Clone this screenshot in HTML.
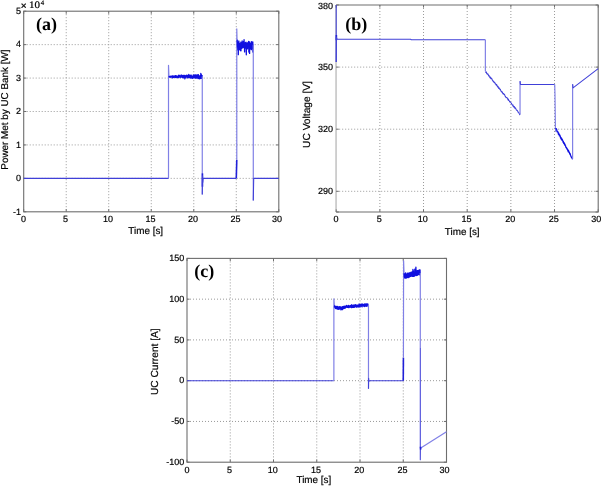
<!DOCTYPE html>
<html><head><meta charset="utf-8"><style>
html,body{margin:0;padding:0;background:#fff;width:602px;height:486px;overflow:hidden}
svg{display:block;filter:blur(0.45px)}
text{text-rendering:geometricPrecision}
</style></head><body>
<svg width="602" height="486" viewBox="0 0 602 486">
<rect width="602" height="486" fill="#fff"/>
<g stroke="#9a9a9a" stroke-width="1" stroke-dasharray="1 2"><line x1="66.22" y1="11.2" x2="66.22" y2="211.8"/><line x1="108.73" y1="11.2" x2="108.73" y2="211.8"/><line x1="151.25" y1="11.2" x2="151.25" y2="211.8"/><line x1="193.77" y1="11.2" x2="193.77" y2="211.8"/><line x1="236.28" y1="11.2" x2="236.28" y2="211.8"/><line x1="23.7" y1="178.37" x2="278.8" y2="178.37"/><line x1="23.7" y1="144.93" x2="278.8" y2="144.93"/><line x1="23.7" y1="111.5" x2="278.8" y2="111.5"/><line x1="23.7" y1="78.07" x2="278.8" y2="78.07"/><line x1="23.7" y1="44.63" x2="278.8" y2="44.63"/></g>
<rect x="23.7" y="11.2" width="255.1" height="200.6" fill="none" stroke="#6e6e6e" stroke-width="1.1"/>
<path d="M23.7 211.8v-2.6M23.7 11.2v2.6M66.22 211.8v-2.6M66.22 11.2v2.6M108.73 211.8v-2.6M108.73 11.2v2.6M151.25 211.8v-2.6M151.25 11.2v2.6M193.77 211.8v-2.6M193.77 11.2v2.6M236.28 211.8v-2.6M236.28 11.2v2.6M278.8 211.8v-2.6M278.8 11.2v2.6M23.7 211.8h2.6M278.8 211.8h-2.6M23.7 178.37h2.6M278.8 178.37h-2.6M23.7 144.93h2.6M278.8 144.93h-2.6M23.7 111.5h2.6M278.8 111.5h-2.6M23.7 78.07h2.6M278.8 78.07h-2.6M23.7 44.63h2.6M278.8 44.63h-2.6M23.7 11.2h2.6M278.8 11.2h-2.6" stroke="#6e6e6e" stroke-width="1" fill="none"/>
<g font-family='"Liberation Sans", sans-serif' font-size="9.0" fill="#000" stroke="#000" stroke-width="0.18"><text x="23.6" y="221.7" text-anchor="middle">0</text><text x="65.52" y="221.7" text-anchor="middle">5</text><text x="108.03" y="221.7" text-anchor="middle">10</text><text x="150.55" y="221.7" text-anchor="middle">15</text><text x="193.07" y="221.7" text-anchor="middle">20</text><text x="235.58" y="221.7" text-anchor="middle">25</text><text x="276.9" y="221.7" text-anchor="middle">30</text><text x="21" y="214.6" text-anchor="end">-1</text><text x="21" y="181.17" text-anchor="end">0</text><text x="21" y="147.73" text-anchor="end">1</text><text x="21" y="114.3" text-anchor="end">2</text><text x="21" y="80.87" text-anchor="end">3</text><text x="21" y="47.43" text-anchor="end">4</text><text x="21" y="14" text-anchor="end">5</text></g>
<polyline points="23.7,178.37 168.51,178.37" fill="none" stroke="#4040d8" stroke-width="1.05" stroke-opacity="1.0" stroke-linejoin="round"/>
<polyline points="168.51,178.37 168.51,65.36 168.94,76.4" fill="none" stroke="#8080e6" stroke-width="1.2" stroke-opacity="1.0" stroke-linejoin="round"/>
<polyline points="168.94,76.77 169.06,76.38 169.19,76.52 169.32,77.11 169.45,77.14 169.57,77.11 169.7,76.66 169.83,77.05 169.96,76.4 170.08,76.46 170.21,77.27 170.34,76.85 170.47,77.08 170.6,76.13 170.72,76.45 170.85,76.74 170.98,77.18 171.11,76.98 171.23,76.67 171.36,76.44 171.49,76.85 171.62,76.27 171.74,76.45 171.87,76 172,76.88 172.13,77.14 172.25,76.17 172.38,77.92 172.51,76.15 172.64,75.97 172.76,76.25 172.89,76.43 173.02,76.01 173.15,76.6 173.27,77.28 173.4,76.32 173.53,76.03 173.66,76.75 173.78,77.37 173.91,77.13 174.04,77.32 174.17,77.2 174.29,76.75 174.42,77.3 174.55,76.47 174.68,75.99 174.8,76.96 174.93,76.82 175.06,75.73 175.19,77.16 175.31,77.05 175.44,76.4 175.57,77.49 175.7,76.81 175.82,75.7 175.95,76.53 176.08,76.22 176.21,75.79 176.33,75.83 176.46,76.77 176.59,77.35 176.72,77.43 176.85,77.14 176.97,76.88 177.1,77.57 177.23,77.37 177.36,77.54 177.48,76.33 177.61,77.08 177.74,76.85 177.87,75.83 177.99,76.63 178.12,77.44 178.25,76.9 178.38,75.85 178.5,77.6 178.63,76.5 178.76,75.13 178.89,75.51 179.01,76.13 179.14,76.86 179.27,75.95 179.4,75.93 179.52,77.19 179.65,75.45 179.78,75.86 179.91,76.01 180.03,76.52 180.16,76.32 180.29,76.63 180.42,76.31 180.54,75.83 180.67,76.92 180.8,77.57 180.93,76.63 181.05,76.6 181.18,74.96 181.31,75.83 181.44,76.17 181.56,75.86 181.69,76.62 181.82,75.84 181.95,75.81 182.07,76.83 182.2,75.43 182.33,77.4 182.46,77.46 182.58,75.77 182.71,75.72 182.84,76.15 182.97,76.43 183.09,77.84 183.22,76.17 183.35,75.41 183.48,75.57 183.61,77.34 183.73,77.12 183.86,76.33 183.99,76.78 184.12,75.44 184.24,76.68 184.37,75.45 184.5,75.4 184.63,76.47 184.75,77.91 184.88,78.79 185.01,77.49 185.14,75.92 185.26,77.06 185.39,76.4 185.52,77.69 185.65,77.29 185.77,75.77 185.9,76.38 186.03,75.35 186.16,76.23 186.28,76.53 186.41,76.7 186.54,76.63 186.67,75.97 186.79,75.23 186.92,76.38 187.05,75.53 187.18,77.71 187.3,77.87 187.43,77.87 187.56,75.69 187.69,77.63 187.81,76.06 187.94,75.37 188.07,77.44 188.2,76.88 188.32,75.02 188.45,77.64 188.58,76.51 188.71,77.53 188.83,74.51 188.96,75.42 189.09,76.51 189.22,75.07 189.34,75.2 189.47,75.33 189.6,77.31 189.73,77.61 189.86,75.5 189.98,75.98 190.11,76.88 190.24,76.51 190.37,77.14 190.49,75.55 190.62,75.22 190.75,78.21 190.88,77.38 191,77.51 191.13,76.53 191.26,75.09 191.39,77.85 191.51,77.47 191.64,77.74 191.77,77.61 191.9,77.25 192.02,77.3 192.15,77.7 192.28,78.28 192.41,78.29 192.53,76.38 192.66,76.65 192.79,77.98 192.92,76.81 193.04,75.35 193.17,76.54 193.3,74.8 193.43,75.34 193.55,76.06 193.68,77.13 193.81,77.94 193.94,75.67 194.06,77.82 194.19,75.28 194.32,75.92 194.45,77.54 194.57,76.72 194.7,76.77 194.83,74.8 194.96,76.38 195.08,74.77 195.21,75.78 195.34,78.17 195.47,75.96 195.59,75.49 195.72,75.32 195.85,76.22 195.98,77.35 196.11,78.2 196.23,75.16 196.36,75 196.49,76.18 196.62,75.68 196.74,77.43 196.87,77.99 197,75.7 197.13,76.85 197.25,76.54 197.38,75.53 197.51,76.62 197.64,76.92 197.76,74.67 197.89,76.76 198.02,78.55 198.15,77.62 198.27,76.74 198.4,74.76 198.53,78.27 198.66,75.53 198.78,75.26 198.91,77.68 199.04,77.7 199.17,76.73 199.29,78.37 199.42,78.81 199.55,78.37 199.68,77.62 199.8,77.41 199.93,78.67 200.06,77.57 200.19,75.73 200.31,77.48 200.44,76.72 200.57,78.24 200.7,77.89 200.82,73.3 200.95,78.44 201.08,74.36 201.21,77.07 201.33,74.64 201.46,78.4 201.59,77.63 201.72,76.1 201.84,77.56 201.97,77.17 202.1,74.85" fill="none" stroke="#1010e0" stroke-width="1.3" stroke-opacity="1.0" stroke-linejoin="round"/>
<polyline points="202.27,76.4 202.27,194.41" fill="none" stroke="#8080e6" stroke-width="1.2" stroke-opacity="1.0" stroke-linejoin="round"/>
<polyline points="202.44,173.35 202.44,186.73" fill="none" stroke="#2020d8" stroke-width="1.6" stroke-opacity="1.0" stroke-linejoin="round"/>
<polyline points="202.27,194.41 202.53,175.69 202.78,182.38 203.12,178.37 236.28,178.37" fill="none" stroke="#4040d8" stroke-width="1.05" stroke-opacity="1.0" stroke-linejoin="round"/>
<polyline points="236.28,178.37 236.79,159.98" fill="none" stroke="#2020d8" stroke-width="1.6" stroke-opacity="1.0" stroke-linejoin="round"/>
<polyline points="236.79,159.98 236.79,28.92 237.13,42.96" fill="none" stroke="#8080e6" stroke-width="1.2" stroke-opacity="1.0" stroke-linejoin="round"/>
<polyline points="237.13,41.76 237.24,40.16 237.35,44.96 237.45,46.86 237.56,45.57 237.67,42.95 237.77,49.44 237.88,45.16 237.99,42.65 238.09,50.78 238.2,44.48 238.31,54.67 238.41,45.45 238.52,45.56 238.63,46.13 238.73,41.2 238.84,41.01 238.95,43.97 239.05,46.02 239.16,45.12 239.27,47.18 239.37,43.04 239.48,49.4 239.58,44.2 239.69,46.15 239.8,43.73 239.9,45.91 240.01,46.45 240.12,45.17 240.22,50.61 240.33,43.59 240.44,47.18 240.54,44.5 240.65,46.92 240.76,43.37 240.86,42.17 240.97,50.85 241.08,45.99 241.18,44.67 241.29,46.12 241.4,47.47 241.5,44.6 241.61,48.41 241.72,45.33 241.82,42.93 241.93,45.93 242.04,46.15 242.14,40.94 242.25,47.92 242.36,42.96 242.46,45.48 242.57,44.58 242.68,47.04 242.78,45.06 242.89,44.43 243,43.4 243.1,43.09 243.21,47.64 243.32,44.66 243.42,42.72 243.53,41.29 243.63,43.83 243.74,46.93 243.85,45.04 243.95,46.25 244.06,39.68 244.17,44.61 244.27,44.73 244.38,44.97 244.49,42.77 244.59,51.93 244.7,45.08 244.81,43.29 244.91,44.15 245.02,43.27 245.13,43.87 245.23,47.98 245.34,44.48 245.45,44.83 245.55,44.48 245.66,42.32 245.77,43.59 245.87,43.79 245.98,42.35 246.09,42.28 246.19,42.71 246.3,54.84 246.41,44.19 246.51,44.19 246.62,44.47 246.73,44.98 246.83,45.98 246.94,48.5 247.05,43.65 247.15,46.16 247.26,46.8 247.36,45.27 247.47,48.74 247.58,43.95 247.68,44.08 247.79,42.54 247.9,46.48 248,44.41 248.11,46.49 248.22,45.03 248.32,46.01 248.43,46.21 248.54,41.45 248.64,44.6 248.75,41.59 248.86,52.04 248.96,49.26 249.07,45.91 249.18,49.31 249.28,46.46 249.39,49.22 249.5,47.88 249.6,53.4 249.71,41.94 249.82,42.48 249.92,43.44 250.03,49.29 250.14,44.92 250.24,44.63 250.35,45.08 250.46,45.8 250.56,48.32 250.67,43.71 250.78,45.63 250.88,43.83 250.99,47.34 251.1,44.32 251.2,43.97 251.31,44.12 251.41,49.65 251.52,41.54 251.63,43.01 251.73,42.84 251.84,48.27 251.95,45.53 252.05,45.11 252.16,42.94 252.27,44.79 252.37,42.3 252.48,45.56 252.59,43.84 252.69,44.57 252.8,41.98 252.91,52.02 253.01,44.5 253.12,46.63" fill="none" stroke="#1010e0" stroke-width="1.3" stroke-opacity="1.0" stroke-linejoin="round"/>
<polyline points="253.29,44.63 253.29,200.43" fill="none" stroke="#8080e6" stroke-width="1.2" stroke-opacity="1.0" stroke-linejoin="round"/>
<polyline points="253.29,200.43 253.72,178.37 278.8,178.37" fill="none" stroke="#4040d8" stroke-width="1.05" stroke-opacity="1.0" stroke-linejoin="round"/>
<g stroke="#9a9a9a" stroke-width="1" stroke-dasharray="1 2"><line x1="379.87" y1="5" x2="379.87" y2="212"/><line x1="423.53" y1="5" x2="423.53" y2="212"/><line x1="467.2" y1="5" x2="467.2" y2="212"/><line x1="510.87" y1="5" x2="510.87" y2="212"/><line x1="554.53" y1="5" x2="554.53" y2="212"/><line x1="336.2" y1="191.3" x2="598.2" y2="191.3"/><line x1="336.2" y1="129.2" x2="598.2" y2="129.2"/><line x1="336.2" y1="67.1" x2="598.2" y2="67.1"/></g>
<line x1="336.05" y1="5" x2="336.05" y2="212" stroke="#b8b8b8" stroke-width="1.3"/>
<path d="M336.2 5H598.2V212H336.2" fill="none" stroke="#6e6e6e" stroke-width="1.1" stroke-linejoin="miter"/>
<path d="M336.2 212v-2.6M336.2 5v2.6M379.87 212v-2.6M379.87 5v2.6M423.53 212v-2.6M423.53 5v2.6M467.2 212v-2.6M467.2 5v2.6M510.87 212v-2.6M510.87 5v2.6M554.53 212v-2.6M554.53 5v2.6M598.2 212v-2.6M598.2 5v2.6M336.2 212h2.6M598.2 212h-2.6M336.2 191.3h2.6M598.2 191.3h-2.6M336.2 129.2h2.6M598.2 129.2h-2.6M336.2 67.1h2.6M598.2 67.1h-2.6M336.2 5h2.6M598.2 5h-2.6" stroke="#6e6e6e" stroke-width="1" fill="none"/>
<g font-family='"Liberation Sans", sans-serif' font-size="9.0" fill="#000" stroke="#000" stroke-width="0.18"><text x="336.1" y="222" text-anchor="middle">0</text><text x="379.17" y="222" text-anchor="middle">5</text><text x="422.83" y="222" text-anchor="middle">10</text><text x="466.5" y="222" text-anchor="middle">15</text><text x="510.17" y="222" text-anchor="middle">20</text><text x="553.83" y="222" text-anchor="middle">25</text><text x="596.3" y="222" text-anchor="middle">30</text><text x="333" y="194.1" text-anchor="end">290</text><text x="333" y="132" text-anchor="end">320</text><text x="333" y="69.9" text-anchor="end">350</text><text x="333" y="8.6" text-anchor="end">380</text></g>
<polyline points="336.2,5 336.2,61.93" fill="none" stroke="#4040d8" stroke-width="1.05" stroke-opacity="1.0" stroke-linejoin="round"/>
<polyline points="336.37,35.01 336.37,40.19" fill="none" stroke="#2020d8" stroke-width="1.6" stroke-opacity="1.0" stroke-linejoin="round"/>
<polyline points="336.2,61.93 336.37,37.09 337.07,39.16 410.43,39.16 411.31,39.78 485.37,39.78" fill="none" stroke="#4040d8" stroke-width="1.05" stroke-opacity="1.0" stroke-linejoin="round"/>
<polyline points="485.37,39.78 485.37,71.24" fill="none" stroke="#8080e6" stroke-width="1.2" stroke-opacity="1.0" stroke-linejoin="round"/>
<polyline points="485.37,71.63 485.65,72.25 485.94,71.81 486.23,71.84 486.52,73.12 486.81,73.65 487.1,73.37 487.39,74.22 487.68,73.96 487.97,74.07 488.25,74.59 488.54,75.9 488.83,75.35 489.12,75.6 489.41,76.48 489.7,77.29 489.99,77.21 490.28,78 490.57,76.97 490.85,78.73 491.14,78.08 491.43,78.17 491.72,78.68 492.01,79.03 492.3,79.98 492.59,80.4 492.88,80.39 493.17,81.54 493.46,81.97 493.74,81.65 494.03,82.03 494.32,82.5 494.61,82.29 494.9,82.84 495.19,83.94 495.48,83.75 495.77,83.94 496.06,84.66 496.34,85.21 496.63,84.53 496.92,85.35 497.21,86.07 497.5,86.96 497.79,86.31 498.08,86.47 498.37,87.51 498.66,88.44 498.94,87.72 499.23,88.02 499.52,88.61 499.81,89.34 500.1,89.68 500.39,89.26 500.68,90.35 500.97,91.11 501.26,91.53 501.55,91.93 501.83,91.58 502.12,92.25 502.41,92.01 502.7,93.3 502.99,93.78 503.28,94 503.57,93.4 503.86,94.35 504.15,94.46 504.43,94.3 504.72,94.94 505.01,96.11 505.3,96.22 505.59,96.85 505.88,97.19 506.17,97.7 506.46,97.6 506.75,97.42 507.03,97.73 507.32,98.07 507.61,99.16 507.9,98.74 508.19,100.25 508.48,99.35 508.77,100.57 509.06,100.51 509.35,100.82 509.64,101.98 509.92,101.43 510.21,101.82 510.5,101.89 510.79,102.61 511.08,102.66 511.37,103.36 511.66,103.72 511.95,104.69 512.24,104.65 512.52,104.87 512.81,105.99 513.1,105.05 513.39,106.54 513.68,106.61 513.97,107.27 514.26,106.44 514.55,107.02 514.84,108.28 515.12,107.64 515.41,108.06 515.7,108.66 515.99,109.03 516.28,109.89 516.57,110.15 516.86,110.41 517.15,110.2 517.44,110.66 517.73,111.21 518.01,112.06 518.3,112.51 518.59,112.66 518.88,113.05 519.17,113.21 519.46,114.04 519.75,114.66 520.04,113.59" fill="none" stroke="#4040d8" stroke-width="1.05" stroke-opacity="1.0" stroke-linejoin="round"/>
<polyline points="520.04,114.3 520.04,81.18" fill="none" stroke="#8080e6" stroke-width="1.2" stroke-opacity="1.0" stroke-linejoin="round"/>
<polyline points="520.04,81.18 520.47,84.49 554.71,84.49" fill="none" stroke="#4040d8" stroke-width="1.05" stroke-opacity="1.0" stroke-linejoin="round"/>
<polyline points="554.71,84.49 554.97,94.01 555.41,127.34 555.58,131.68" fill="none" stroke="#8080e6" stroke-width="1.2" stroke-opacity="1.0" stroke-linejoin="round"/>
<polyline points="555.58,128.24 555.79,128.66 556.01,128.69 556.22,128.65 556.43,129 556.65,129.44 556.86,130.67 557.07,131.74 557.28,131.52 557.5,131.89 557.71,131.37 557.92,132.37 558.14,132.44 558.35,134.09 558.56,134.29 558.77,133.04 558.99,134.68 559.2,134.22 559.41,135.93 559.63,134.92 559.84,135.01 560.05,135.89 560.26,136 560.48,137.95 560.69,138.25 560.9,137.5 561.12,137.72 561.33,139.31 561.54,139.65 561.75,138.47 561.97,140.09 562.18,139.39 562.39,139.81 562.61,140.42 562.82,140.73 563.03,142.15 563.24,141.26 563.46,142.11 563.67,143.23 563.88,143.46 564.1,143.25 564.31,143.03 564.52,144.34 564.73,145.14 564.95,144.05 565.16,145.44 565.37,145.59 565.59,145.92 565.8,147.09 566.01,147.19 566.23,147.94 566.44,147.9 566.65,147.8 566.86,148.92 567.08,149.2 567.29,149.48 567.5,149.01 567.72,150.48 567.93,149.82 568.14,151.69 568.35,150.4 568.57,150.56 568.78,152.01 568.99,152.25 569.21,152.28 569.42,152.24 569.63,153.95 569.84,153.75 570.06,153.47 570.27,154.1 570.48,155.24 570.7,155.61 570.91,156.01 571.12,156.85 571.33,156.85 571.55,157.75 571.76,157.83 571.97,157.41 572.19,157.09 572.4,158.84 572.61,158.77" fill="none" stroke="#1010e0" stroke-width="1.3" stroke-opacity="1.0" stroke-linejoin="round"/>
<polyline points="572.61,158.8 572.61,84.28" fill="none" stroke="#8080e6" stroke-width="1.2" stroke-opacity="1.0" stroke-linejoin="round"/>
<polyline points="572.61,84.28 573.05,87.9 598.2,68.55" fill="none" stroke="#4040d8" stroke-width="1.05" stroke-opacity="1.0" stroke-linejoin="round"/>
<g stroke="#9a9a9a" stroke-width="1" stroke-dasharray="1 2"><line x1="230.25" y1="258.4" x2="230.25" y2="462.2"/><line x1="273.5" y1="258.4" x2="273.5" y2="462.2"/><line x1="316.75" y1="258.4" x2="316.75" y2="462.2"/><line x1="360" y1="258.4" x2="360" y2="462.2"/><line x1="403.25" y1="258.4" x2="403.25" y2="462.2"/><line x1="187" y1="421.44" x2="446.5" y2="421.44"/><line x1="187" y1="380.68" x2="446.5" y2="380.68"/><line x1="187" y1="339.92" x2="446.5" y2="339.92"/><line x1="187" y1="299.16" x2="446.5" y2="299.16"/></g>
<rect x="187" y="258.4" width="259.5" height="203.8" fill="none" stroke="#6e6e6e" stroke-width="1.1"/>
<path d="M187 462.2v-2.6M187 258.4v2.6M230.25 462.2v-2.6M230.25 258.4v2.6M273.5 462.2v-2.6M273.5 258.4v2.6M316.75 462.2v-2.6M316.75 258.4v2.6M360 462.2v-2.6M360 258.4v2.6M403.25 462.2v-2.6M403.25 258.4v2.6M446.5 462.2v-2.6M446.5 258.4v2.6M187 462.2h2.6M446.5 462.2h-2.6M187 421.44h2.6M446.5 421.44h-2.6M187 380.68h2.6M446.5 380.68h-2.6M187 339.92h2.6M446.5 339.92h-2.6M187 299.16h2.6M446.5 299.16h-2.6M187 258.4h2.6M446.5 258.4h-2.6" stroke="#6e6e6e" stroke-width="1" fill="none"/>
<g font-family='"Liberation Sans", sans-serif' font-size="9.0" fill="#000" stroke="#000" stroke-width="0.18"><text x="186.9" y="472.6" text-anchor="middle">0</text><text x="229.55" y="472.6" text-anchor="middle">5</text><text x="272.8" y="472.6" text-anchor="middle">10</text><text x="316.05" y="472.6" text-anchor="middle">15</text><text x="359.3" y="472.6" text-anchor="middle">20</text><text x="402.55" y="472.6" text-anchor="middle">25</text><text x="444.6" y="472.6" text-anchor="middle">30</text><text x="184.2" y="465" text-anchor="end">-100</text><text x="184.2" y="424.24" text-anchor="end">-50</text><text x="184.2" y="383.48" text-anchor="end">0</text><text x="184.2" y="342.72" text-anchor="end">50</text><text x="184.2" y="301.96" text-anchor="end">100</text><text x="184.2" y="261.2" text-anchor="end">150</text></g>
<polyline points="187,380.68 333.88,380.68" fill="none" stroke="#4040d8" stroke-width="1.05" stroke-opacity="1.0" stroke-linejoin="round"/>
<polyline points="333.88,380.68 333.88,298.75 334.48,307.31" fill="none" stroke="#8080e6" stroke-width="1.2" stroke-opacity="1.0" stroke-linejoin="round"/>
<polyline points="334.48,307.43 334.61,305.88 334.74,305.81 334.87,306.22 335,307.51 335.13,307.2 335.26,308.27 335.39,306.75 335.52,306.98 335.65,307.38 335.78,308.19 335.91,306.31 336.04,308.6 336.17,306.72 336.3,308.54 336.43,306.91 336.56,306.55 336.69,308.68 336.82,306.39 336.95,307.3 337.08,307.5 337.21,309.03 337.34,307.87 337.47,308.87 337.6,309.02 337.73,306.48 337.86,308.56 337.99,307.73 338.12,306.91 338.25,308.33 338.38,309.07 338.5,307.06 338.63,309.23 338.76,307.2 338.89,307.22 339.02,309.3 339.15,308.96 339.28,306.75 339.41,307.93 339.54,306.79 339.67,308.52 339.8,307.03 339.93,306.84 340.06,308.79 340.19,306.81 340.32,308.27 340.45,308.29 340.58,306.78 340.71,307 340.84,308.02 340.97,309.85 341.1,308.45 341.23,307.7 341.36,309.54 341.49,309 341.62,308.18 341.75,309.04 341.88,308.19 342.01,306.91 342.14,308.97 342.27,306.6 342.4,308.81 342.53,309.57 342.66,307.3 342.79,309.03 342.92,308.06 343.05,307.98 343.18,308.79 343.31,306.37 343.44,307.19 343.57,308.02 343.69,306.94 343.82,306.79 343.95,308.11 344.08,308.42 344.21,308.44 344.34,306.03 344.47,307.19 344.6,308 344.73,307.51 344.86,307.71 344.99,307.6 345.12,306.41 345.25,308 345.38,308.06 345.51,306.34 345.64,306.52 345.77,307.14 345.9,306.13 346.03,307.38 346.16,306.7 346.29,305.48 346.42,305.57 346.55,306.53 346.68,305.98 346.81,305.75 346.94,306.61 347.07,306.85 347.2,307.41 347.33,307.18 347.46,306.17 347.59,307.34 347.72,305.78 347.85,306.06 347.98,306.05 348.11,307.07 348.24,305.38 348.37,305.37 348.5,307.55 348.63,307.45 348.75,307.57 348.88,307.14 349.01,307.65 349.14,307.17 349.27,305.97 349.4,306.54 349.53,306.63 349.66,306.23 349.79,305.83 349.92,306.68 350.05,305.79 350.18,307.22 350.31,305.4 350.44,305.89 350.57,305.93 350.7,306.55 350.83,305.82 350.96,306.67 351.09,307.34 351.22,305.91 351.35,305.92 351.48,305.26 351.61,307.7 351.74,304.66 351.87,307.26 352,305.08 352.13,307.4 352.26,306.17 352.39,306.24 352.52,305.35 352.65,306.49 352.78,307.04 352.91,306.52 353.04,307.26 353.17,306.23 353.3,306.79 353.43,305.69 353.56,307.25 353.69,306.43 353.82,304.83 353.95,304.85 354.07,307.05 354.2,307.3 354.33,306.95 354.46,305.47 354.59,307.05 354.72,305.14 354.85,306.29 354.98,305.32 355.11,305.25 355.24,305.23 355.37,305.44 355.5,304.65 355.63,306.03 355.76,305.14 355.89,305.53 356.02,305.99 356.15,307.08 356.28,306.88 356.41,305.46 356.54,306.89 356.67,305.72 356.8,307.06 356.93,305.56 357.06,304.87 357.19,305.97 357.32,306.64 357.45,305.72 357.58,305.28 357.71,306.93 357.84,305.65 357.97,306.33 358.1,305.9 358.23,306.58 358.36,306.73 358.49,306.95 358.62,306.7 358.75,305.71 358.88,304.22 359.01,305.5 359.13,304.72 359.26,305.88 359.39,306.82 359.52,305.92 359.65,304.42 359.78,304.27 359.91,305.64 360.04,306.88 360.17,305.23 360.3,304.56 360.43,305.62 360.56,304.79 360.69,305.71 360.82,305.36 360.95,306.08 361.08,305.76 361.21,306.11 361.34,304.15 361.47,304.65 361.6,305.95 361.73,305.19 361.86,304.1 361.99,306.66 362.12,306.77 362.25,304.22 362.38,304.94 362.51,304.23 362.64,305.03 362.77,304.8 362.9,304.83 363.03,304.85 363.16,305.43 363.29,305.87 363.42,304.39 363.55,305.1 363.68,305.81 363.81,305.75 363.94,304.84 364.07,306.46 364.2,305.93 364.32,304.04 364.45,306.54 364.58,304.92 364.71,303.83 364.84,305.19 364.97,306.12 365.1,304.66 365.23,304.13 365.36,306.16 365.49,305.72 365.62,305.22 365.75,303.9 365.88,304.38 366.01,306.03 366.14,305.61 366.27,305.03 366.4,303.93 366.53,306.26 366.66,304.57 366.79,306.14 366.92,304.33 367.05,303.96 367.18,306.17 367.31,304.73 367.44,304.43 367.57,304.09 367.7,304.5 367.83,305.11 367.96,304.08 368.09,304.07 368.22,304.58" fill="none" stroke="#1010e0" stroke-width="1.3" stroke-opacity="1.0" stroke-linejoin="round"/>
<polyline points="368.48,304.87 368.48,388.83" fill="none" stroke="#8080e6" stroke-width="1.2" stroke-opacity="1.0" stroke-linejoin="round"/>
<polyline points="368.48,388.83 368.65,378.23 368.91,381.5 369.51,380.68 403.25,380.68" fill="none" stroke="#4040d8" stroke-width="1.05" stroke-opacity="1.0" stroke-linejoin="round"/>
<polyline points="403.25,380.68 403.42,357.85" fill="none" stroke="#2020d8" stroke-width="1.6" stroke-opacity="1.0" stroke-linejoin="round"/>
<polyline points="403.42,357.85 403.6,260.85 404.12,276.33" fill="none" stroke="#8080e6" stroke-width="1.2" stroke-opacity="1.0" stroke-linejoin="round"/>
<polyline points="404.12,273.23 404.19,274.69 404.26,273.97 404.33,276.83 404.41,274.93 404.48,276.48 404.55,277.1 404.62,277.88 404.7,274.9 404.77,277.2 404.84,274.24 404.92,277.86 404.99,274.66 405.06,274.74 405.13,275.91 405.21,276.13 405.28,274.63 405.35,273.66 405.42,278.16 405.5,274.96 405.57,272.97 405.64,275.75 405.72,274.03 405.79,275.81 405.86,274.26 405.93,275.84 406.01,277.26 406.08,274.34 406.15,275.43 406.22,274.43 406.3,277.02 406.37,275.79 406.44,276.37 406.52,277.77 406.59,278 406.66,275.16 406.73,277.11 406.81,275.33 406.88,277.03 406.95,276.69 407.02,275.85 407.1,275.04 407.17,273.87 407.24,273.12 407.32,275.3 407.39,274.5 407.46,273.79 407.53,273.69 407.61,273.38 407.68,277.43 407.75,276.71 407.82,273.33 407.9,276.92 407.97,275.98 408.04,274.25 408.12,273.15 408.19,277.45 408.26,277.59 408.33,276.44 408.41,274.07 408.48,275.3 408.55,273.98 408.62,273.97 408.7,275.45 408.77,275.29 408.84,275.67 408.92,275.7 408.99,273.59 409.06,273.16 409.13,273.04 409.21,276.72 409.28,277.08 409.35,275.62 409.42,273.62 409.5,272.88 409.57,273.28 409.64,275.79 409.72,276.79 409.79,275.71 409.86,276.43 409.93,272.95 410.01,276.55 410.08,273.03 410.15,275.79 410.23,275.95 410.3,274.97 410.37,276.44 410.44,274.08 410.52,272.62 410.59,273.05 410.66,273.42 410.73,274.98 410.81,275.91 410.88,275.15 410.95,276.25 411.03,272.23 411.1,273.87 411.17,274.5 411.24,274.8 411.32,272.33 411.39,272.54 411.46,275.55 411.53,272.77 411.61,275.74 411.68,273.92 411.75,272.48 411.83,273.09 411.9,276.13 411.97,273.71 412.04,271.93 412.12,274.2 412.19,272.24 412.26,275 412.33,273.56 412.41,276.23 412.48,272.92 412.55,273.38 412.63,273.86 412.7,276.41 412.77,273.76 412.84,274.81 412.92,269.3 412.99,275.32 413.06,272.04 413.13,272.24 413.21,272.07 413.28,275.92 413.35,270.65 413.43,275.75 413.5,275.96 413.57,275.55 413.64,273.64 413.72,276.24 413.79,272.7 413.86,272.2 413.93,274.01 414.01,274.09 414.08,275.78 414.15,274.89 414.23,273.34 414.3,275.65 414.37,271.84 414.44,275.04 414.52,272.86 414.59,274.17 414.66,276 414.73,272.68 414.81,269.1 414.88,275.78 414.95,274.06 415.03,272.5 415.1,273.22 415.17,274.4 415.24,273.2 415.32,275.21 415.39,274.18 415.46,270.75 415.53,274.95 415.61,274.87 415.68,274.73 415.75,273.87 415.83,269.55 415.9,267.27 415.97,272.72 416.04,272.69 416.12,269.9 416.19,272.9 416.26,275.49 416.34,273.97 416.41,275.35 416.48,271.13 416.55,275.2 416.63,271.04 416.7,273.07 416.77,271.08 416.84,274.2 416.92,271.9 416.99,273.28 417.06,274.4 417.14,272.78 417.21,271.08 417.28,273.09 417.35,275.26 417.43,274.47 417.5,270.63 417.57,270.83 417.64,270.68 417.72,273.72 417.79,271 417.86,272.02 417.94,272.3 418.01,272.02 418.08,271.14 418.15,271.47 418.23,270.35 418.3,270.6 418.37,271.88 418.44,274.14 418.52,273.76 418.59,274.63 418.66,270.56 418.74,273.74 418.81,271.95 418.88,273 418.95,272.99 419.03,274.41 419.1,270.11 419.17,270.79 419.24,271.89 419.32,270.74 419.39,273.48 419.46,273.14 419.54,271.94 419.61,274.8 419.68,269.97 419.75,273.33 419.83,270.85 419.9,272.92 419.97,270.72 420.04,269.98 420.12,273.52" fill="none" stroke="#1010e0" stroke-width="1.3" stroke-opacity="1.0" stroke-linejoin="round"/>
<polyline points="420.29,273.07 420.29,348.07" fill="none" stroke="#8080e6" stroke-width="1.2" stroke-opacity="1.0" stroke-linejoin="round"/>
<polyline points="420.29,348.07 420.29,459.75 420.38,448.34" fill="none" stroke="#4040d8" stroke-width="1.05" stroke-opacity="1.0" stroke-linejoin="round"/>
<polyline points="420.38,448.34 446.5,431.79" fill="none" stroke="#8080e6" stroke-width="1.2" stroke-opacity="1.0" stroke-linejoin="round"/>
<polyline points="420.46,446.71 420.72,449.56" fill="none" stroke="#2020d8" stroke-width="1.6" stroke-opacity="1.0" stroke-linejoin="round"/>
<g font-family='"Liberation Sans", sans-serif' font-size="9.9" fill="#000" stroke="#000" stroke-width="0.18"><text x="145.7" y="233.6" text-anchor="middle">Time [s]</text><text x="462.2" y="235.4" text-anchor="middle">Time [s]</text><text x="313.9" y="483.1" text-anchor="middle">Time [s]</text><text transform="translate(8.3 109.6) rotate(-90)" text-anchor="middle">Power Met by UC Bank [W]</text><text transform="translate(310.4 114.5) rotate(-90)" text-anchor="middle" font-size="10.2">UC Voltage [V]</text><text transform="translate(158.3 361.7) rotate(-90)" text-anchor="middle" font-size="10.2">UC Current [A]</text></g>
<text x="23.7" y="9.4" text-anchor="middle" font-family='"Liberation Sans", sans-serif' font-size="10" fill="#000" stroke="#000" stroke-width="0.25">&#215;</text>
<g font-family='"Liberation Serif", serif' fill="#000" stroke="#000" stroke-width="0.2"><text transform="translate(29.1 7.7) scale(1.1 1)" font-size="10">10</text><text x="40.7" y="4.7" font-size="6.8">4</text></g>
<g font-family='"Liberation Serif", serif' font-weight="bold" font-size="18" fill="#000"><text x="35.9" y="30.1">(a)</text><text x="345.3" y="30.1">(b)</text><text x="194.2" y="276.5">(c)</text></g>
</svg>
</body></html>
